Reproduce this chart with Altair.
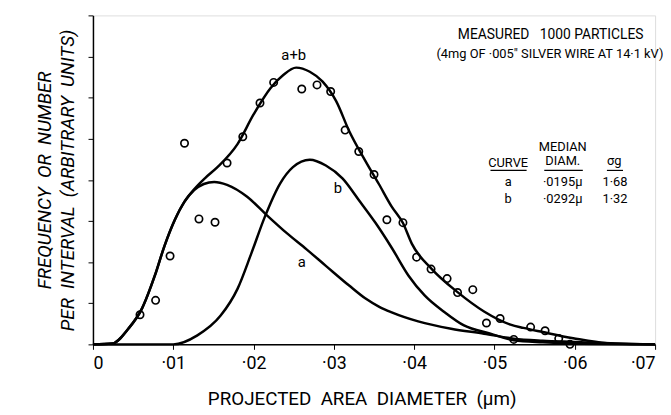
import altair as alt
import pandas as pd

FONT = "Roboto, Liberation Sans Narrow, sans-serif"
NB = "\u00a0"

# measured points (diameter in µm, arbitrary frequency units)
pt_x = [0.00586, 0.0078, 0.0096, 0.0114, 0.0132, 0.0152, 0.0167, 0.01866, 0.0208, 0.0225,
        0.0260, 0.0279, 0.0296, 0.0314, 0.0331, 0.0350, 0.0366, 0.0386, 0.0403, 0.0421,
        0.0441, 0.0454, 0.0473, 0.0490, 0.0507, 0.0524, 0.0545, 0.0563, 0.0580, 0.0594]
pt_y = [0.72, 1.07, 2.15, 4.89, 3.05, 2.97, 4.41, 5.05, 5.87, 6.37,
        6.21, 6.31, 6.15, 5.21, 4.69, 4.13, 3.03, 2.96, 2.12, 1.83,
        1.60, 1.26, 1.33, 0.52, 0.63, 0.12, 0.42, 0.33, 0.14, 0.0]

# curve a
a_x = [0.0, 0.0024, 0.0044, 0.0061, 0.0077, 0.0089, 0.0102, 0.0114, 0.0126, 0.0138, 0.0151,
       0.0167, 0.0192, 0.0216, 0.0241, 0.0266, 0.0290, 0.0319, 0.0339, 0.0356, 0.0372,
       0.0405, 0.0446, 0.0487, 0.0524, 0.0560, 0.0600, 0.0650, 0.0700]
a_y = [0.0, 0.02, 0.38, 0.87, 1.67, 2.39, 3.03, 3.47, 3.75, 3.90, 3.95,
       3.88, 3.59, 3.15, 2.71, 2.31, 1.91, 1.43, 1.12, 0.92, 0.78,
       0.56, 0.38, 0.26, 0.14, 0.09, 0.06, 0.02, 0.0]

# curve b
b_x = [0.0, 0.0100, 0.0130, 0.0159, 0.0180, 0.0197, 0.0214, 0.0233, 0.0249, 0.0270, 0.0290,
       0.0311, 0.0331, 0.0352, 0.0372, 0.0393, 0.0413, 0.0438, 0.0462, 0.0495, 0.0524,
       0.0560, 0.0600, 0.0700]
b_y = [0.0, 0.0, 0.22, 0.70, 1.35, 2.20, 3.10, 3.91, 4.31, 4.49, 4.35,
       4.03, 3.51, 2.95, 2.35, 1.67, 1.19, 0.78, 0.46, 0.26, 0.10,
       0.05, 0.02, 0.0]

# curve a+b
ab_x = [0.0, 0.0024, 0.0044, 0.0061, 0.0077, 0.0089, 0.0102, 0.0114, 0.0126, 0.0140, 0.0155,
        0.0180, 0.0200, 0.0221, 0.0237, 0.0253, 0.0270, 0.0286, 0.0303, 0.0319, 0.0339,
        0.0356, 0.0372, 0.0386, 0.0397, 0.0422, 0.0454, 0.0487, 0.0520, 0.0536, 0.0560,
        0.0598, 0.0640, 0.0700]
ab_y = [0.0, 0.02, 0.38, 0.87, 1.67, 2.39, 3.03, 3.47, 3.77, 4.05, 4.31,
        4.87, 5.59, 6.23, 6.55, 6.73, 6.63, 6.39, 5.91, 5.19, 4.47,
        3.90, 3.35, 2.95, 2.45, 1.83, 1.27, 0.80, 0.48, 0.40, 0.30,
        0.15, 0.03, 0.0]

# curve labels
lab_text = ["a+b", "b", "a"]
lab_x = [0.0250, 0.0305, 0.0260]
lab_y = [7.04, 3.79, 1.99]

# notes
note_text = ["MEASURED" + NB * 3 + "1000 PARTICLES", "(4mg OF ·005\" SILVER WIRE AT 14·1 kV)"]
note_x = [0.0570, 0.0569]
note_y = [7.52, 7.06]
note_size = [14, 13]

# table
tab_text = ["CURVE", "MEDIAN", "DIAM.", "σg", "a", "·0195μ", "1·68", "b", "·0292μ", "1·32"]
tab_x = [0.0517, 0.0585, 0.0585, 0.0649, 0.0517, 0.0585, 0.0650, 0.0517, 0.0585, 0.0650]
tab_y = [4.42, 4.80, 4.47, 4.47, 3.94, 3.94, 3.94, 3.53, 3.53, 3.53]
ul_x1 = [0.0495, 0.0562, 0.0640]
ul_x2 = [0.0540, 0.0610, 0.0660]
ul_y = [4.23, 4.23, 4.23]

xs = alt.Scale(domain=[0, 0.07], nice=False)
ys = alt.Scale(domain=[0, 8], nice=False)

curves = pd.concat([
    pd.DataFrame({"x": a_x, "y": a_y, "c": "a"}),
    pd.DataFrame({"x": b_x, "y": b_y, "c": "b"}),
    pd.DataFrame({"x": ab_x, "y": ab_y, "c": "a+b"}),
])
pts = pd.DataFrame({"x": pt_x, "y": pt_y})
labs = pd.DataFrame({"x": lab_x, "y": lab_y, "t": lab_text})
notes = pd.DataFrame({"x": note_x, "y": note_y, "t": note_text, "s": note_size})
tab = pd.DataFrame({"x": tab_x, "y": tab_y, "t": tab_text})
ul = pd.DataFrame({"x": ul_x1, "x2": ul_x2, "y": ul_y})

x_axis = alt.Axis(
    values=[0, 0.01, 0.02, 0.03, 0.04, 0.05, 0.06, 0.07],
    labelExpr="datum.value == 0 ? '0' : '·0' + round(datum.value * 100)",
    grid=False, domainColor="black", domainWidth=1.5, tickColor="black", tickSize=5,
    labelFont=FONT, labelFontSize=18, labelColor="black", labelPadding=5,
    title=(NB * 2).join(["PROJECTED", "AREA", "DIAMETER", "(μm)"]),
    titleFont=FONT, titleFontSize=19, titleFontWeight="normal", titleColor="black",
    titlePadding=18, titleX=272,
)
y_axis = alt.Axis(
    values=[0, 1, 2, 3, 4, 5, 6, 7, 8], labels=False,
    grid=False, domainColor="black", domainWidth=1.5, tickColor="black", tickSize=5,
    title=[(NB * 2).join(["FREQUENCY", "OR", "NUMBER"]),
           (NB * 2).join(["PER", "INTERVAL", "(ARBITRARY", "UNITS)"])],
    titleFont=FONT, titleFontSize=19, titleFontStyle="italic", titleFontWeight="normal",
    titleColor="black", titlePadding=10, titleLineHeight=23,
)

lines = alt.Chart(curves).mark_line(color="black", strokeWidth=2.5, interpolate="monotone").encode(
    x=alt.X("x:Q", scale=xs, axis=x_axis),
    y=alt.Y("y:Q", scale=ys, axis=y_axis),
    detail="c:N",
)
circles = alt.Chart(pts).mark_point(shape="circle", filled=False, color="black",
                                    strokeWidth=1.7, size=55, opacity=1).encode(
    x=alt.X("x:Q", scale=xs), y=alt.Y("y:Q", scale=ys))
labels = alt.Chart(labs).mark_text(font=FONT, fontSize=15, color="black").encode(
    x=alt.X("x:Q", scale=xs), y=alt.Y("y:Q", scale=ys), text="t:N")
notes_m = alt.Chart(notes).mark_text(font=FONT, color="black").encode(
    x=alt.X("x:Q", scale=xs), y=alt.Y("y:Q", scale=ys), text="t:N",
    size=alt.Size("s:Q", scale=None, legend=None))
table = alt.Chart(tab).mark_text(font=FONT, fontSize=13, color="black").encode(
    x=alt.X("x:Q", scale=xs), y=alt.Y("y:Q", scale=ys), text="t:N")
unders = alt.Chart(ul).mark_rule(color="black", strokeWidth=1.2).encode(
    x=alt.X("x:Q", scale=xs), x2="x2:Q", y=alt.Y("y:Q", scale=ys))

chart = alt.layer(lines, circles, labels, notes_m, table, unders).properties(
    width=569, height=333,
    autosize=alt.AutoSizeParams(type="none"),
    padding={"left": 86, "top": 5, "right": 8, "bottom": 68},
).configure_view(stroke=None).configure(background="white")

chart.save("out.html", embed_options={"renderer": "svg", "actions": False})
